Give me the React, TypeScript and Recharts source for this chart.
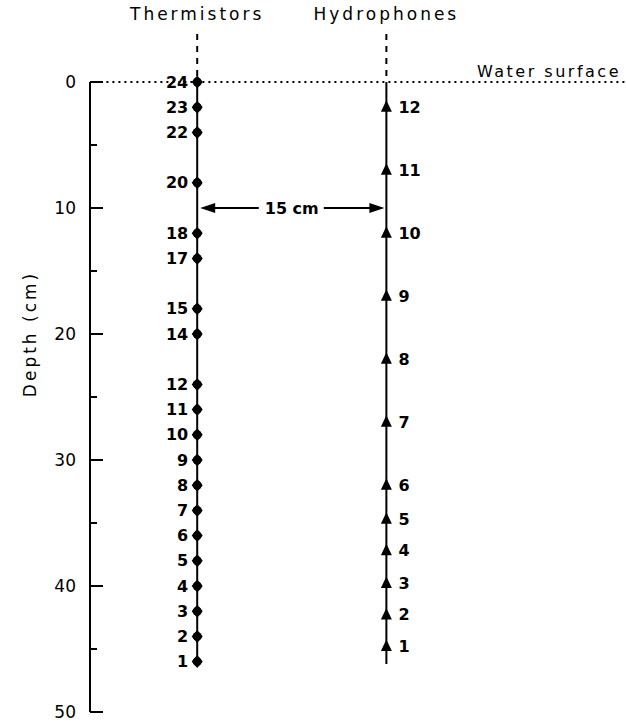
import React from "react";
import {
  ScatterChart,
  Scatter,
  XAxis,
  YAxis,
  ReferenceLine,
} from "recharts";

// sensor numbers and their depths (cm)
const thermistorIds = [24, 23, 22, 20, 18, 17, 15, 14, 12, 11, 10, 9, 8, 7, 6, 5, 4, 3, 2, 1];
const thermistorDepths = [0, 2, 4, 8, 12, 14, 18, 20, 24, 26, 28, 30, 32, 34, 36, 38, 40, 42, 44, 46];
const hydrophoneIds = [12, 11, 10, 9, 8, 7, 6, 5, 4, 3, 2, 1];
const hydrophoneDepths = [2, 7, 12, 17, 22, 27, 32, 34.7, 37.2, 39.8, 42.3, 44.8];

// horizontal placement of the two strings (cm from the depth axis)
const thermistorX = 8.5;
const stringSpacing = 15;
const hydrophoneX = thermistorX + stringSpacing;
const stringBottoms = [46.4, 46.2];
const depthTicks = [0, 5, 10, 15, 20, 25, 30, 35, 40, 45, 50];

const FONT = "'DejaVu Sans', sans-serif";

const thermistorData = thermistorIds.map((id, i) => ({ x: thermistorX, depth: thermistorDepths[i], id }));
const hydrophoneData = hydrophoneIds.map((id, i) => ({ x: hydrophoneX, depth: hydrophoneDepths[i], id }));

const ThermistorDot = (props: any) => {
  const { cx, cy, payload } = props;
  return (
    <g>
      <polygon
        points={`${cx},${cy - 6.5} ${cx + 5.5},${cy} ${cx},${cy + 6.5} ${cx - 5.5},${cy}`}
        fill="#000"
      />
      <circle cx={cx} cy={cy} r={4.5} fill="#000" />
      <text
        x={cx - 9}
        y={cy}
        textAnchor="end"
        dominantBaseline="central"
        fontFamily={FONT}
        fontSize={16}
        fontWeight="bold"
        fill="#000"
      >
        {payload.id}
      </text>
    </g>
  );
};

const HydrophoneDot = (props: any) => {
  const { cx, cy, payload } = props;
  return (
    <g>
      <polygon points={`${cx},${cy - 7} ${cx + 5.5},${cy + 4.5} ${cx - 5.5},${cy + 4.5}`} fill="#000" />
      <text
        x={cx + 12}
        y={cy}
        textAnchor="start"
        dominantBaseline="central"
        fontFamily={FONT}
        fontSize={16}
        fontWeight="bold"
        fill="#000"
      >
        {payload.id}
      </text>
    </g>
  );
};

const DepthTick = (props: any) => {
  const { x, y, payload } = props;
  const major = payload.value % 10 === 0;
  return (
    <g>
      <line x1={x} y1={y} x2={x + (major ? 13 : 7)} y2={y} stroke="#000" strokeWidth={2} />
      {major && (
        <text
          x={x - 14}
          y={y}
          textAnchor="end"
          dominantBaseline="central"
          fontFamily={FONT}
          fontSize={17}
          fill="#000"
        >
          {payload.value}
        </text>
      )}
    </g>
  );
};

const DepthLabel = (props: any) => {
  const { viewBox } = props;
  const cx = viewBox.x + 30;
  const cy = viewBox.y + viewBox.height * 0.4;
  return (
    <text
      x={cx}
      y={cy}
      transform={`rotate(-90 ${cx} ${cy})`}
      textAnchor="middle"
      dominantBaseline="central"
      fontFamily={FONT}
      fontSize={17}
      letterSpacing={3}
      fill="#000"
    >
      Depth (cm)
    </text>
  );
};

const SpacingArrow = (props: any) => {
  const { x1, x2, y1 } = props;
  const mid = (x1 + x2) / 2;
  const l = x1 + 3;
  const r = x2 - 2;
  return (
    <g>
      <line x1={l + 12} y1={y1} x2={mid - 33} y2={y1} stroke="#000" strokeWidth={2} />
      <polygon points={`${l},${y1} ${l + 15},${y1 - 5} ${l + 15},${y1 + 5}`} fill="#000" />
      <line x1={mid + 32} y1={y1} x2={r - 12} y2={y1} stroke="#000" strokeWidth={2} />
      <polygon points={`${r},${y1} ${r - 15},${y1 - 5} ${r - 15},${y1 + 5}`} fill="#000" />
    </g>
  );
};

const titleStyle = { fontFamily: FONT, fontSize: 17, letterSpacing: 3, fill: "#000" };

export default function App() {
  return (
    <div style={{ position: "fixed", left: 0, top: 0, background: "#fff" }}>
      <ScatterChart width={626} height={725} margin={{ top: 82, right: 0, bottom: 13, left: 0 }}>
        <XAxis type="number" dataKey="x" domain={[0, 42.5]} hide />
        <YAxis
          type="number"
          dataKey="depth"
          domain={[0, 50]}
          reversed
          ticks={depthTicks}
          interval={0}
          width={90}
          tickLine={false}
          tickSize={0}
          tickMargin={0}
          axisLine={{ stroke: "#000", strokeWidth: 2 }}
          tick={<DepthTick />}
          label={<DepthLabel />}
        />
        {/* water surface */}
        <ReferenceLine
          segment={[{ x: 1.3, y: 0 }, { x: 42.5, y: 0 }]}
          stroke="#000"
          strokeWidth={2}
          strokeDasharray="2 4"
          ifOverflow="visible"
          label={{
            value: "Water surface",
            position: "insideBottomRight",
            offset: 5,
            style: { fontFamily: FONT, fontSize: 16, letterSpacing: 2.5, fill: "#000" },
          }}
        />
        {/* lead-in cables above water with titles */}
        <ReferenceLine
          segment={[{ x: thermistorX, y: -3.8 }, { x: thermistorX, y: 0 }]}
          stroke="#000"
          strokeWidth={2}
          strokeDasharray="6 6"
          ifOverflow="visible"
          label={{ value: "Thermistors", position: "top", offset: 14, style: titleStyle }}
        />
        <ReferenceLine
          segment={[{ x: hydrophoneX, y: -3.8 }, { x: hydrophoneX, y: 0 }]}
          stroke="#000"
          strokeWidth={2}
          strokeDasharray="6 6"
          ifOverflow="visible"
          label={{ value: "Hydrophones", position: "top", offset: 14, style: titleStyle }}
        />
        <ReferenceLine
          segment={[{ x: thermistorX, y: 0 }, { x: thermistorX, y: stringBottoms[0] }]}
          stroke="#000"
          strokeWidth={2}
          ifOverflow="visible"
        />
        <ReferenceLine
          segment={[{ x: hydrophoneX, y: 0 }, { x: hydrophoneX, y: stringBottoms[1] }]}
          stroke="#000"
          strokeWidth={2}
          ifOverflow="visible"
        />
        {/* 15 cm spacing */}
        <ReferenceLine
          segment={[{ x: thermistorX, y: 10 }, { x: hydrophoneX, y: 10 }]}
          shape={<SpacingArrow />}
          ifOverflow="visible"
          label={{
            value: "15 cm",
            position: "center",
            style: { fontFamily: FONT, fontSize: 16, fontWeight: "bold", fill: "#000" },
          }}
        />
        <Scatter data={thermistorData} shape={<ThermistorDot />} isAnimationActive={false} />
        <Scatter data={hydrophoneData} shape={<HydrophoneDot />} isAnimationActive={false} />
      </ScatterChart>
    </div>
  );
}
